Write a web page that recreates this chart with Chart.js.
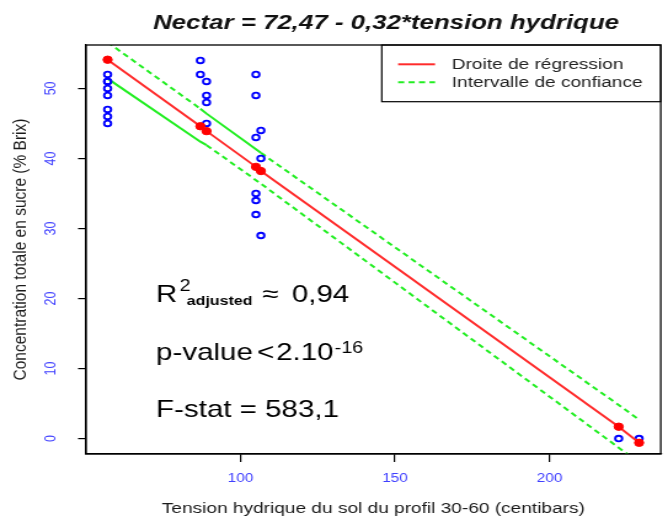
<!DOCTYPE html>
<html>
<head>
<meta charset="utf-8">
<script src="https://cdn.jsdelivr.net/npm/chart.js@4/dist/chart.umd.min.js"></script>
<style>
  html, body { margin: 0; padding: 0; background: #fff; }
  canvas { display: block; }
</style>
</head>
<body>
<!-- the original figure is stretched horizontally, so the canvas is drawn narrower and widened by css -->
<canvas id="c" width="543" height="519" style="width:668px;height:519px"></canvas>
<script>
// observed points: soil water tension (centibars) / sugar concentration (% Brix)
const obsX = [57, 57, 57, 57, 57, 57, 57, 57, 87, 87, 89, 89, 89, 89,
              105, 105, 105, 105, 105, 105, 106.6, 106.6, 106.6, 222.4, 229];
const obsY = [52, 51, 51, 50, 49, 47, 46, 45, 54, 52, 51, 49, 48, 45,
              52, 49, 43, 35, 34, 32, 44, 40, 29, 0, 0];

// fitted values and confidence band at each distinct tension
const fitX = [57, 87, 89, 105, 106.6, 222.4, 229];
const fitY = [54.1, 44.6, 43.9, 38.8, 38.2, 1.7, -0.6];
const upperY = [56.6, 47.1, 46.4, 41.3, 40.8, 4.8, 2.7];
const lowerY = [51.4, 42.4, 41.9, 36.9, 36.4, -1.3, -3.4];

const xTicks = [100, 150, 200];
const yTicks = [0, 10, 20, 30, 40, 50];

const mainTitle = 'Nectar = 72,47 - 0,32*tension hydrique';
const xTitle = 'Tension hydrique du sol du profil 30-60 (centibars)';
const yTitle = 'Concentration totale en sucre (% Brix)';
const legendLabels = ['Droite de régression', 'Intervalle de confiance'];

const FONT = "'Liberation Sans', Arial, Helvetica, sans-serif";
const RED = '#ff2b2b';
const GREEN = '#22ee22';
const BLUE = '#0000ff';
const TICK_COLOR = '#4040ff';
const sx = v => v / 1.23;   // screen x -> canvas x

const pts = (xs, ys) => xs.map((x, i) => ({x: x, y: ys[i]}));

const extras = {
  id: 'extras',
  afterDraw(chart) {
    const ctx = chart.ctx, a = chart.chartArea;
    ctx.save();
    ctx.strokeStyle = '#000';
    ctx.lineWidth = 1.3;
    ctx.strokeRect(a.left, a.top, a.right - a.left, a.bottom - a.top);

    // main title
    ctx.fillStyle = '#111';
    ctx.textBaseline = 'alphabetic';
    ctx.textAlign = 'center';
    ctx.font = 'italic bold 21px ' + FONT;
    ctx.fillText(mainTitle, sx(386), 28.5);

    // legend
    const lx = sx(381.7);
    ctx.lineWidth = 1.2;
    ctx.strokeRect(lx, a.top, a.right - lx, 101.7 - a.top);
    ctx.lineWidth = 2;
    ctx.strokeStyle = RED;
    ctx.beginPath(); ctx.moveTo(sx(398), 64.3); ctx.lineTo(sx(435), 64.3); ctx.stroke();
    ctx.strokeStyle = GREEN;
    ctx.setLineDash([5, 3.5]);
    ctx.beginPath(); ctx.moveTo(sx(398), 82.3); ctx.lineTo(sx(435), 82.3); ctx.stroke();
    ctx.setLineDash([]);
    ctx.fillStyle = '#222';
    ctx.textAlign = 'left';
    ctx.textBaseline = 'middle';
    ctx.font = '15.5px ' + FONT;
    ctx.fillText(legendLabels[0], sx(451.7), 64.5);
    ctx.fillText(legendLabels[1], sx(451.7), 82.5);

    // statistics
    ctx.fillStyle = '#000';
    ctx.textBaseline = 'alphabetic';
    ctx.font = '24px ' + FONT;
    ctx.fillText('R', sx(156), 301.7);
    ctx.fillText('\u2248', sx(262), 301.7);
    ctx.fillText('0,94', sx(291.7), 301.7);
    ctx.font = '16px ' + FONT;
    ctx.fillText('2', sx(179.5), 291);
    ctx.font = 'bold 13px ' + FONT;
    ctx.fillText('adjusted', sx(186.7), 304.5);

    ctx.font = '24px ' + FONT;
    ctx.fillText('p-value', sx(156), 359.5);
    ctx.fillText('<', sx(257), 359.5);
    ctx.fillText('2.10', sx(276), 359.5);
    const w = ctx.measureText('2.10').width;
    ctx.font = '16px ' + FONT;
    ctx.fillText('-16', sx(276) + w + 1, 352.5);

    ctx.font = '24px ' + FONT;
    ctx.fillText('F-stat = 583,1', sx(156), 416.7);
    ctx.restore();
  }
};

const bandSegment = solid => ({
  borderDash: c => solid.includes(c.p0DataIndex) ? [] : [5, 3.5]
});

new Chart(document.getElementById('c'), {
  type: 'scatter',
  data: {
    datasets: [{
      label: 'Concentration',
      data: pts(obsX, obsY),
      pointStyle: 'circle',
      pointRadius: 2.8,
      pointBorderWidth: 1.9,
      pointBorderColor: BLUE,
      pointBackgroundColor: 'rgba(0,0,0,0)',
      showLine: false,
      order: 2
    }, {
      label: legendLabels[0],
      data: pts(fitX, fitY),
      showLine: true,
      borderColor: RED,
      borderWidth: 2,
      pointRadius: 3.7,
      pointBorderWidth: 1,
      pointBorderColor: '#ff0000',
      pointBackgroundColor: '#ff0000',
      order: 1
    }, {
      label: legendLabels[1],
      data: pts(fitX, upperY),
      showLine: true,
      borderColor: GREEN,
      borderWidth: 2,
      pointRadius: 0,
      segment: bandSegment([1, 2, 3]),
      order: 3
    }, {
      label: legendLabels[1] + ' (bas)',
      data: pts(fitX, lowerY),
      showLine: true,
      borderColor: GREEN,
      borderWidth: 2,
      pointRadius: 0,
      segment: bandSegment([0, 1]),
      order: 3
    }]
  },
  options: {
    responsive: false,
    animation: false,
    layout: { padding: { top: 45, right: 5.6, left: 0, bottom: 0 } },
    plugins: {
      legend: { display: false },
      tooltip: { enabled: false }
    },
    scales: {
      x: {
        type: 'linear',
        min: 50,
        max: 236,
        afterBuildTicks: s => { s.ticks = xTicks.map(v => ({value: v})); },
        afterFit: s => { s.height = 65; },
        grid: { drawOnChartArea: false, drawTicks: true, tickLength: 8, color: '#000', lineWidth: 1.2 },
        border: { display: true, color: '#000', width: 1.3 },
        ticks: { color: TICK_COLOR, font: { family: FONT, size: 12.5 }, padding: 9.5, maxRotation: 0, autoSkip: false },
        title: { display: true, text: xTitle, color: '#1a1a1a', font: { family: FONT, size: 15.5 }, padding: { top: 0, bottom: 0.5 } }
      },
      y: {
        type: 'linear',
        min: -2.2,
        max: 56.2,
        afterBuildTicks: s => { s.ticks = yTicks.map(v => ({value: v})); },
        afterFit: s => { s.width = sx(86); },
        grid: { drawOnChartArea: false, drawTicks: true, tickLength: 6.5, color: '#000', lineWidth: 1.2 },
        border: { display: true, color: '#000', width: 1.3 },
        ticks: { color: TICK_COLOR, font: { family: FONT, size: 12.5 }, padding: 15, minRotation: 90, maxRotation: 90, crossAlign: 'center', autoSkip: false },
        title: { display: true, text: yTitle, color: '#1a1a1a', font: { family: FONT, size: 15.5 }, padding: { top: 7.4, bottom: 0 } }
      }
    }
  },
  plugins: [extras]
});
</script>
</body>
</html>
